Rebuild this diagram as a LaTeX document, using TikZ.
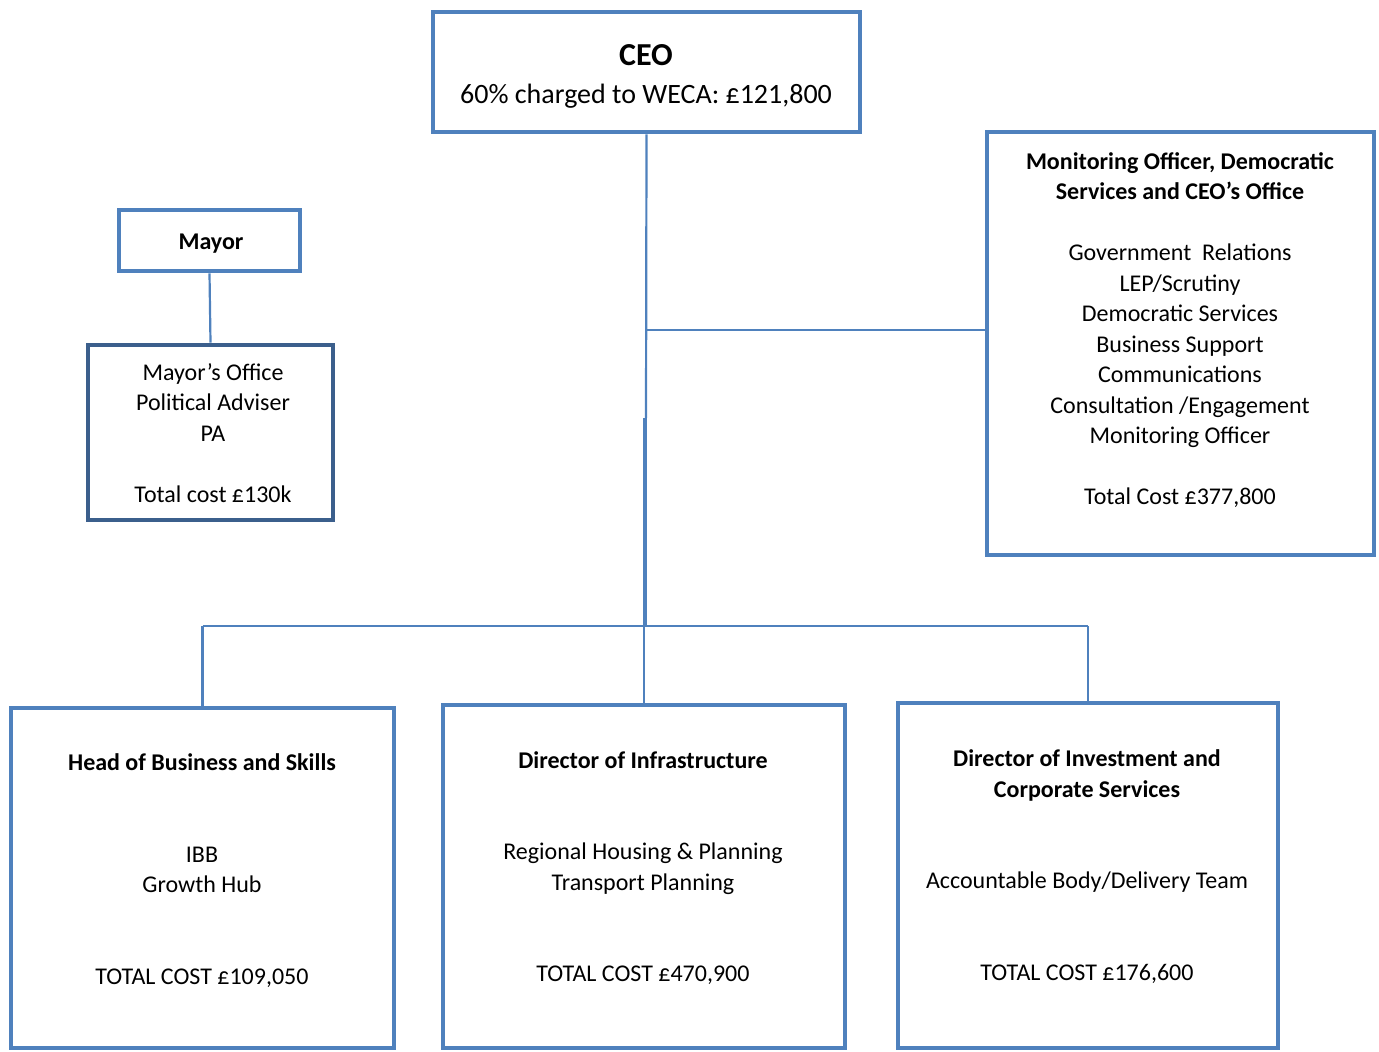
\documentclass[tikz,border=0pt]{standalone}
\usepackage{fontspec}
\setmainfont{Carlito}
\usetikzlibrary{positioning}
\definecolor{orgblue}{HTML}{4F81BD}
\definecolor{orgdark}{HTML}{3B5F8C}
\begin{document}
\begin{tikzpicture}[x=0.5pt,y=-0.5pt]
\tikzstyle{post}=[rectangle, draw=orgblue, line width=2.3pt, fill=white,
	inner sep=0pt, align=center, font=\fontsize{12}{15.25}\selectfont
]
\tikzstyle{duties}=[align=center, inner sep=0pt, font=\fontsize{12}{15.25}\selectfont]
\tikzstyle{link}=[draw=orgblue, line width=1.1pt]
\useasboundingbox (0,0) rectangle (1379,1052);
\node[post, minimum width=213.5pt, minimum height=60pt] (ceo) at (646.5,72) {};
\node[post, minimum width=90.5pt, minimum height=30.5pt] (mayor) at (209.5,240.5) {};
\node[post, draw=orgdark, minimum width=122.5pt, minimum height=87.5pt] (office) at (210.5,432.5) {};
\node[post, minimum width=193.5pt, minimum height=211.5pt] (monitor) at (1180.5,343.5) {};
\node[post, minimum width=191.5pt, minimum height=170pt] (skills) at (202.5,878) {};
\node[post, minimum width=201pt, minimum height=171.5pt] (infra) at (644,876.5) {};
\node[post, minimum width=190pt, minimum height=172.5pt] (invest) at (1088,875.5) {};
\node[duties, font=\fontsize{14}{19}\selectfont] (ceotext) at (646,76) {{\fontsize{16}{19}\selectfont\textbf{CEO}}\\60\% charged to WECA: £121,800};
\node[duties] (mayortext) at (211,244) {\textbf{Mayor}};
\node[duties] (officetext) at (213,433) {Mayor’s Office\\Political Adviser\\PA\\[15.25pt]Total cost £130k};
\node[duties] (monitortext) at (1180,330) {\textbf{Monitoring Officer, Democratic}\\\textbf{Services and CEO’s Office}\\[15.25pt]Government~ Relations\\LEP/Scrutiny\\Democratic Services\\Business Support\\Communications\\Consultation /Engagement\\Monitoring Officer\\[15.25pt]Total Cost £377,800};
\node[duties] (skillstext) at (202,870.5) {\textbf{Head of Business and Skills}\\[30.5pt]IBB\\Growth Hub\\[30.5pt]TOTAL COST £109,050};
\node[duties] (infratext) at (643,868) {\textbf{Director of Infrastructure}\\[30.5pt]Regional Housing \& Planning\\Transport Planning\\[30.5pt]TOTAL COST £470,900};
\node[duties] (investtext) at (1087,866.5) {\textbf{Director of Investment and}\\\textbf{Corporate Services}\\[30.5pt]Accountable Body/Delivery Team\\[30.5pt]TOTAL COST £176,600};
\coordinate (split) at (646,418);
\coordinate (tap) at (646,330);
\coordinate (hub) at (645,626);
\path[link] (ceo.south) -- (split);
\path[link] (tap) -- (tap -| monitor.west);
\path[link, line width=2.3pt] (split -| hub) -- (hub);
\path[link] (hub -| skills.north) -- (hub -| invest.north);
\path[link] (hub -| skills.north) -- (skills.north);
\path[link] (hub -| infra.north) -- (infra.north);
\path[link] (hub -| invest.north) -- (invest.north);
\path[link] (mayor.south) -- (office.north);
\end{tikzpicture}
\end{document}
